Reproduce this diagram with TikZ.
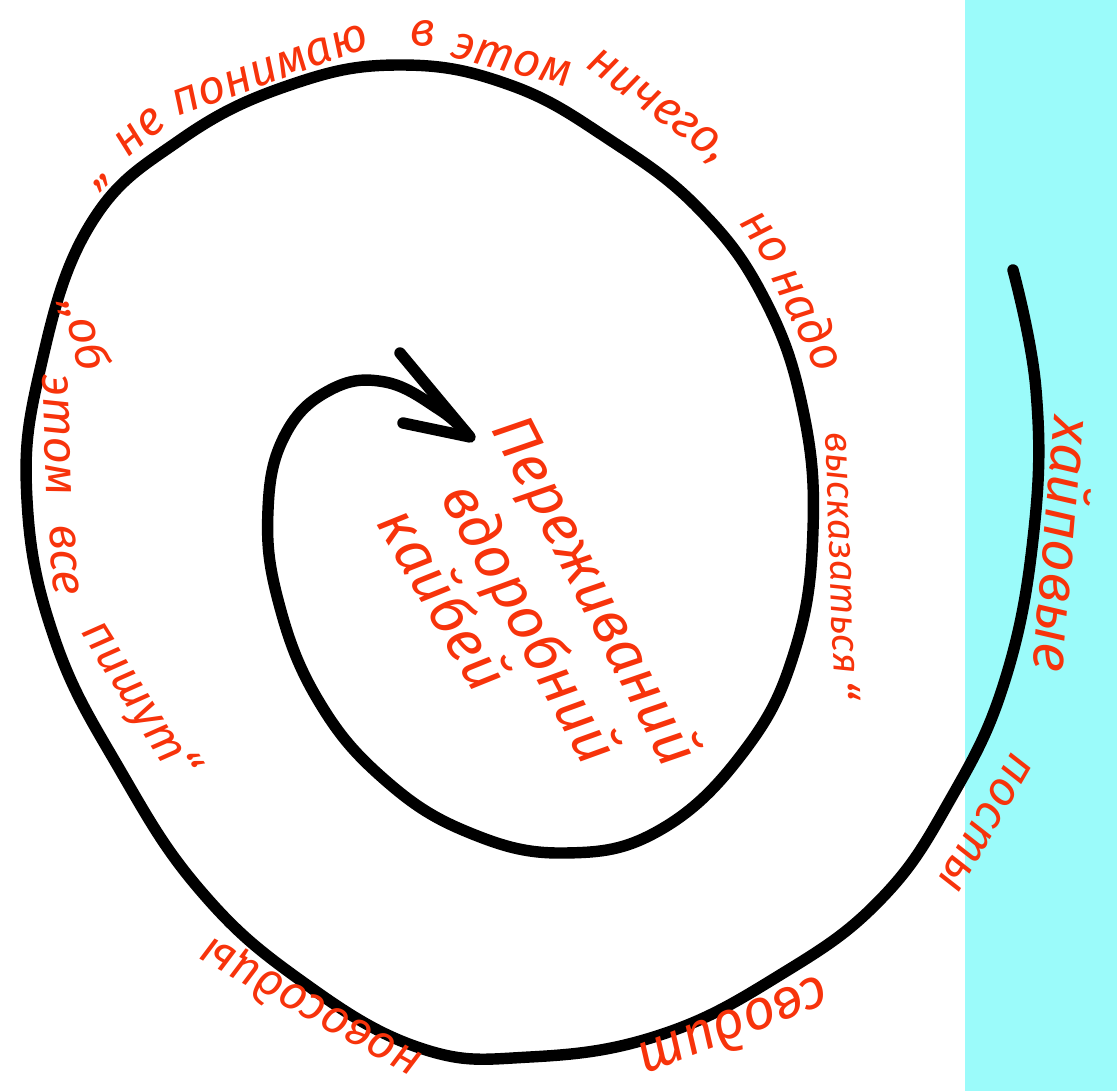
\documentclass[tikz,border=0pt]{standalone}
\usepackage{fontspec}
\newfontfamily\hand{Fira Sans}
\definecolor{ink}{HTML}{F7330B}
\definecolor{sea}{HTML}{9BFBFA}

\begin{document}
\begin{tikzpicture}[
    x=0.02cm, y=-0.02cm,
    coil/.style={
        draw=black,
        line width=6.5pt,
        line cap=round,
        line join=round
    },
    word/.style={
        text=ink,
        inner sep=0pt,
        font=\hand\itshape\fontsize{27}{27}\selectfont
    },
    small/.style={word, font=\hand\itshape\fontsize{22}{22}\selectfont},
    large/.style={word, font=\hand\itshape\fontsize{32}{32}\selectfont},
    big/.style={word, font=\hand\itshape\fontsize{34}{34}\selectfont}
]
\useasboundingbox (0,0) rectangle (1117,1091);
\fill[sea] (965,0) rectangle (1117,1091);

\draw[coil] plot[smooth, tension=0.7] coordinates {
    (1013,270) (1036,390) (1034,530) (1005,680) (950,800) (880,900)
    (780,975) (660,1035) (530,1057) (420,1048) (300,980) (200,890)
    (120,770) (55,640) (27,500) (40,370) (90,225) (180,140) (290,85)
    (400,65) (510,85) (610,140) (700,210) (765,300) (803,410)
    (813,530) (795,650) (745,750) (660,830) (565,853) (470,833)
    (385,780) (318,700) (278,600) (268,510) (285,435) (330,390)
    (385,382) (440,410) (468,435)};
\draw[coil] (400,353) -- (470,437) -- (403,423);

\node[word, rotate=45] (q1) at (103,182) {„};
\node[word, rotate=40] (w1) at (140,132) {не};
\node[word, rotate=20] (w2) at (270,70) {понимаю};
\node[word, rotate=-2] (w3) at (423,33) {в};
\node[word, rotate=-15] (w4) at (512,60) {этом};
\node[word, rotate=-36] (w5) at (656,108) {ничего,};
\node[word, rotate=-55] (w6) at (765,238) {но};
\node[word, rotate=-64] (w7) at (810,318) {надо};
\node[small, rotate=-88] (w8) at (840,553) {высказаться};
\node[word, rotate=-88] (q2) at (843,690) {“};

\node[word, rotate=-78] (l1) at (85,335) {„об};
\node[word, rotate=-88] (l2) at (57,435) {этом};
\node[word, rotate=-86] (l3) at (64,560) {все};
\node[word, rotate=-58] (l4) at (138,700) {пишут“};

\node[large, rotate=-95] (r1) at (1065,545) {хайповые};
\node[word, rotate=-120] (r2) at (985,823) {посты};
\node[large, rotate=-159] (b1) at (735,1030) {сводит};
\node[word, rotate=151] (b2) at (310,1008) {новосодцы};

\node[big, rotate=-63] (c1) at (593,592) {Переживаний};
\node[big, rotate=-62] (c2) at (527,625) {вдоробний};
\node[big, rotate=-60] (c3) at (445,598) {кайбей};
\end{tikzpicture}
\end{document}
